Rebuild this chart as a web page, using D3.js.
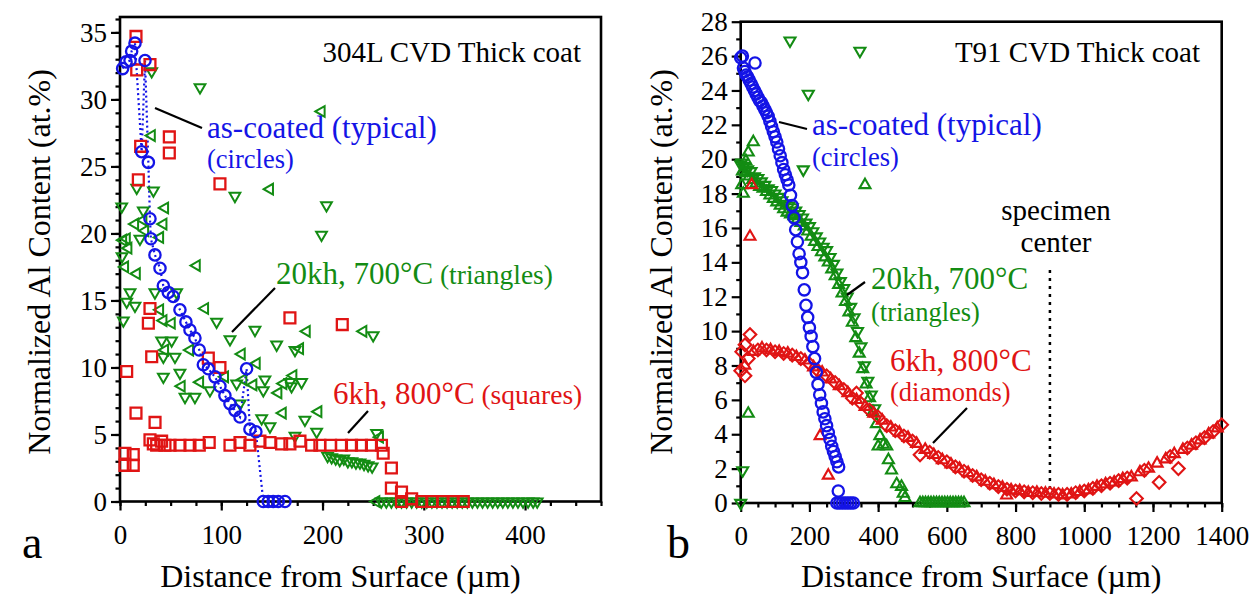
<!DOCTYPE html>
<html>
<head>
<meta charset="utf-8">
<script src="https://d3js.org/d3.v7.min.js"></script>
<style>
  body { margin: 0; background: #fff; }
  text { font-family: "Liberation Serif", "Times New Roman", serif; }
</style>
</head>
<body>
<script>
// ---------- panel a : 304L ----------
// [distance um, Al at.%]
var aCircles = [[2.6,32.3],[6,32.8],[9.9,32.9],[11.5,33.6],[14.8,34.2],[21.4,26.1],[24.7,32.9],[28,25.3],[29.6,21.1],[30.5,19.6],[34.5,18.4],[39.5,17.4],[42.8,16.1],[47.7,15.6],[52.6,15.3],[59.2,14.3],[65.1,13.4],[69.1,12.8],[74,12.2],[78.3,11.3],[82.3,10.2],[87.2,9.9],[93.8,9.3],[98.7,8.6],[103.6,7.9],[108.6,7.3],[113.5,6.8],[118.5,6.3],[125,9.9],[128.3,5.4],[134.2,5.2],[141.5,0],[146.4,0],[151.3,0],[156.3,0],[162.9,0]];

var aSquares = [[4.9,3.6],[4.9,2.7],[6.6,9.7],[13.1,3.5],[13.1,2.7],[15.8,34.7],[15.8,6.6],[16.5,32.2],[18.1,24.0],[20.4,26.5],[28,13.3],[29.6,14.4],[29.6,32.6],[31.3,10.8],[34.6,5.9],[48.7,27.2],[48.7,26.0],[87.2,10.7],[98.7,10.0],[98.7,23.7],[167.8,13.7],[219.5,13.2],
  [29.6,4.6],[32.9,4.3],[36.2,4.2],[41.1,4.5],[44.4,4.2],[49.4,4.2],[59.2,4.2],[69.1,4.2],[78.3,4.2],[88.1,4.4],[108.6,4.2],[118.5,4.4],[128.3,4.2],[138.2,4.5],[148.1,4.4],[159.6,4.3],[167.8,4.3],[177.7,4.5],[189.2,4.2],[197.4,4.2],[207.9,4.2],[218.7,4.2],[228.6,4.2],[238.4,4.2],[248.3,4.2],[258.2,4.2],
  [259.9,3.6],[268,2.5],[268,1.0],[278,0.7],[278,0],[288,0.2],[298,0],[308,0],[319,0],[329,0],[339,0]];

var aTriDown = [[1.7,22],[2,18.3],[3.3,13.5],[6.6,14.9],[9.9,15.6],[14.8,14.6],[16.5,23.4],[19.7,19.6],[23,21.7],[31.3,32.1],[33,23.2],[34.5,15.6],[41.1,12.0],[42.8,10.8],[42.8,9.3],[51,12.0],[54.3,10.8],[55.9,15.6],[59.2,9.6],[64.2,7.8],[74,7.8],[79,30.9],[88.8,8.3],[95.4,13.4],[108.6,12.1],[113.5,22.8],[115.2,8.8],[118.5,7.3],[133.3,12.8],[139.9,6.2],[141.5,8.3],[143.1,9.1],[148.1,5.6],[154.7,11.7],[167.8,8.9],[169.4,8.6],[172.8,11.3],[172.8,4.9],[179.3,8.9],[182.6,6.1],[194.2,5.2],[199,19.9],[203.9,22.1],[250,12.4],[253.4,5.1],
  [205,3.4],[209,3.3],[213,3.2],[217,3.1],[221,3.2],[225,3.0],[229,3.0],[233,2.9],[237,2.9],[241,2.8],[245,2.7],[249,2.6],
  [258,0],[263,0],[268,0],[273,0],[278,0],[283,0],[288,0],[293,0],[298,0],[303,0],[308,0],[313,0],[318,0],[323,0],[328,0],[333,0],[338,0],[343,0],[348,0],[353,0],[358,0],[363,0],[368,0],[373,0],[378,0],[383,0],[388,0],[393,0],[398,0],[403,0],[408,0],[412,0]];

var aTriLeft = [[3,19.5],[4.9,17.5],[6.6,19.6],[8.2,18.9],[14.8,20.7],[16.5,17.0],[23,21.0],[24.7,20.2],[31.3,27.3],[39.5,19.7],[39.5,14.3],[42.8,20.7],[42.8,13.5],[44.4,21.9],[44.4,11.3],[51,13.3],[60.8,8.6],[69.1,11.3],[75.7,17.6],[79,8.9],[83.9,14.4],[103.6,9.3],[120.1,11.0],[121.7,9.1],[131.6,8.7],[134.9,10.3],[148,23.3],[156.3,8.1],[160.6,6.6],[161.2,8.8],[171.1,9.4],[177.7,11.4],[184.3,12.7],[195.8,6.7],[199,29.1],[240.2,12.7],[253,0],[256.6,4.8]];

var aXTicks = [0, 100, 200, 300, 400];
var aYTicks = [0, 5, 10, 15, 20, 25, 30, 35];

// ---------- panel b : T91 ----------
var bCircles = [[0,25.9],[5,26.0],[8,25.3],[12,25.1],[16,24.9],[20,24.8],[25,24.6],[30,24.4],[35,24.2],[40,24.0],[41.6,25.6],[45,23.8],[50,23.6],[55,23.4],[60,23.3],[65,23.1],[70,22.9],[75,22.7],[80,22.5],[85,22.2],[90,21.9],[95,21.6],[100,21.3],[105,21.0],[110,20.6],[115,20.2],[120,19.8],[125,19.4],[130,19.1],[135,18.8],[140,18.5],[145,17.9],[150,17.3],[155,16.6],[160,15.9],[165,15.2],[170,14.5],[175,14.0],[180,13.4],[185,12.4],[190,11.5],[195,10.8],[200,10.2],[205,9.7],[210,9.1],[215,8.4],[220,7.6],[225,6.9],[230,6.3],[235,5.8],[240,5.3],[245,4.9],[250,4.5],[255,4.1],[260,3.7],[265,3.3],[270,3.0],[275,2.7],[280,2.4],[285,2.1],
  [284,0.7],[280,0],[288,0],[296,0],[304,0],[312,0],[320,0],[328,0]];

var bGreenDown = [[0,0],[5.8,1.9],[3,19.8],[143.5,26.9],[347,26.3],[196.7,23.8],[182.2,19.4],
  [0,19.7],[10,19.6],[20,19.4],[30,19.3],[40,19.0],[50,18.9],[60,18.7],[70,18.5],[80,18.3],[90,18.2],[100,18.0],[110,17.8],[120,17.6],[130,17.4],[140,17.3],[150,17.2],[160,17.0],[170,16.8],[180,16.6],[190,16.3],[200,16.1],[210,15.8],[220,15.5],[230,15.2],[240,14.9],[250,14.7],[260,14.3],[270,13.9],[280,13.4],[290,12.9],[300,12.5],[310,12.0],[320,11.4],[330,10.8],[340,10.0],[350,9.1],[360,8.0],[370,7.1],[380,6.3],[390,5.5]];

var bGreenUp = [[3,18.5],[7.6,18.0],[15,19.9],[22,20.4],[36.7,21.0],[22,5.2],[361.8,18.5],
  [5,19.3],[15,19.2],[25,19.0],[35,18.8],[45,18.6],[55,18.4],[65,18.3],[75,18.1],[85,17.9],[95,17.7],[105,17.5],[115,17.3],[125,17.1],[135,16.9],[145,16.8],[155,16.7],[165,16.5],[175,16.3],[185,16.1],[195,15.8],[205,15.5],[215,15.2],[225,14.9],[235,14.6],[245,14.3],[255,14.0],[265,13.6],[275,13.2],[285,12.7],[295,12.2],[305,11.7],[315,11.1],[325,10.5],[335,9.6],[345,8.7],[355,7.8],[365,6.9],[375,6.1],[385,5.3],[395,4.6],[405,3.9],[400,3.3],[415,3.4],[425,3.3],[430,2.5],[439,1.9],[454,1.1],[468,0.95],[473,0.55],[478,0.3],
  [522,0],[530,0],[538,0],[546,0],[554,0],[562,0],[570,0],[578,0],[586,0],[594,0],[602,0],[610,0],[618,0],[626,0],[634,0],[642,0],[650,0]];

var bDiamonds = [[0,7.7],[3,8.8],[12.5,7.4],[12.5,9.2],[22,8.4],[27,9.8],[50,8.9],[75,8.9],[100,8.8],[125,8.7],[150,8.6],[175,8.4],[200,8.1],[225,7.7],[250,7.4],[275,7.0],[300,6.6],[325,6.1],[337,6.4],[350,5.8],[375,5.4],[400,5.0],[425,4.5],[450,4.2],[475,3.9],[500,3.6],[522,2.8],[550,2.95],[575,2.65],[600,2.4],[625,2.1],[650,1.85],[675,1.6],[700,1.35],[725,1.15],[750,0.95],[775,0.8],[800,0.7],[825,0.65],[850,0.6],[875,0.55],[900,0.55],[925,0.5],[950,0.5],[975,0.6],[1000,0.7],[1025,0.85],[1050,1.0],[1075,1.15],[1100,1.3],[1125,1.45],[1152,0.26],[1175,1.9],[1218,1.2],[1250,2.7],[1274,2.0],[1300,3.2],[1325,3.5],[1350,3.8],[1375,4.15],[1400,4.55]];

var bRedUp = [[32,18.5],[27,15.5],[231,3.9],[255,1.6],
  [12,8.0],[37,8.8],[62,9.0],[87,8.9],[112,8.8],[137,8.7],[162,8.5],[187,8.3],[212,7.9],[237,7.6],[262,7.2],[287,6.8],[312,6.4],[337,6.0],[362,5.6],[387,5.2],[412,4.8],[437,4.4],[462,4.1],[487,3.8],[512,3.45],[537,3.1],[562,2.8],[587,2.5],[612,2.25],[637,2.0],[662,1.75],[687,1.5],[712,1.25],[737,1.05],[762,0.9],[774,0.45],[787,0.75],[812,0.7],[837,0.6],[862,0.6],[887,0.55],[912,0.5],[937,0.45],[962,0.5],[987,0.65],[1012,0.75],[1037,0.95],[1062,1.1],[1087,1.2],[1112,1.4],[1137,1.5],[1162,1.8],[1187,2.0],[1212,2.3],[1237,2.55],[1262,2.85],[1287,3.1],[1312,3.35],[1337,3.65],[1362,4.0],[1387,4.35]];

var bXTicks = [0, 200, 400, 600, 800, 1000, 1200, 1400];
var bYTicks = [0, 2, 4, 6, 8, 10, 12, 14, 16, 18, 20, 22, 24, 26, 28];
var specimenCenter = 900;

var BLUE = "#1414e6", RED = "#e01414", GREEN = "#138c13";

var svg = d3.select("body").append("svg")
  .attr("width", 1254).attr("height", 596);

// sets up frame + axes, returns scales
function setupPanel(o) {
  var x = d3.scaleLinear().domain(o.xDom).range(o.xRange);
  var y = d3.scaleLinear().domain(o.yDom).range(o.yRange);
  var g = svg.append("g");

  // minor ticks
  g.append("g").attr("transform", "translate(0," + o.yRange[0] + ")")
    .call(d3.axisBottom(x).tickValues(o.xMinor).tickSize(4.5).tickSizeOuter(0).tickFormat(""));
  g.append("g").attr("transform", "translate(" + o.xRange[0] + ",0)")
    .call(d3.axisLeft(y).tickValues(o.yMinor).tickSize(4.5).tickSizeOuter(0).tickFormat(""));
  // major ticks
  g.append("g").attr("transform", "translate(0," + o.yRange[0] + ")")
    .call(d3.axisBottom(x).tickValues(o.xTicks).tickSize(9).tickSizeOuter(0)
      .tickPadding(14).tickFormat(d3.format("d")));
  g.append("g").attr("transform", "translate(" + o.xRange[0] + ",0)")
    .call(d3.axisLeft(y).tickValues(o.yTicks).tickSize(9).tickSizeOuter(0)
      .tickPadding(4).tickFormat(d3.format("d")));

  g.selectAll(".domain").remove();
  g.selectAll(".tick line").attr("stroke", "#000").attr("stroke-width", 2.2);
  g.selectAll(".tick text").attr("fill", "#000").style("font-size", "27px")
    .style("font-family", "'Liberation Serif', serif");

  g.append("rect")
    .attr("x", o.xRange[0]).attr("y", o.yRange[1])
    .attr("width", o.xRange[1] - o.xRange[0]).attr("height", o.yRange[0] - o.yRange[1])
    .attr("fill", "none").attr("stroke", "#000").attr("stroke-width", 2.6);

  // axis titles
  svg.append("text").attr("x", (o.xRange[0] + o.xRange[1]) / 2 + o.xtOff).attr("y", 587)
    .attr("text-anchor", "middle").style("font-size", "32px")
    .text("Distance from Surface (\u00b5m)");
  svg.append("text")
    .attr("transform", "translate(" + o.ytX + ",262) rotate(-90)")
    .attr("text-anchor", "middle").style("font-size", "32px")
    .text("Normalized Al Content (at.%)");
  svg.append("text").attr("x", o.letterX).attr("y", 558)
    .style("font-size", "46px").text(o.letter);

  svg.append("text").attr("x", o.titleX).attr("y", 62)
    .attr("text-anchor", "end").style("font-size", "29px").text(o.title);

  return {x: x, y: y};
}

function marks(sc, data, type, rot, size, color, sw) {
  svg.append("g").selectAll("path").data(data).enter().append("path")
    .attr("d", d3.symbol().type(type).size(size))
    .attr("transform", function (d) {
      return "translate(" + sc.x(d[0]) + "," + sc.y(d[1]) + ") rotate(" + rot + ")";
    })
    .attr("fill", "none").attr("stroke", color).attr("stroke-width", sw);
}

function leader(x1, y1, x2, y2) {
  svg.append("line").attr("x1", x1).attr("y1", y1).attr("x2", x2).attr("y2", y2)
    .attr("stroke", "#000").attr("stroke-width", 2.2);
}

function label(x, y, big, small, color, smallOnNewLine, y2) {
  var t = svg.append("text").attr("x", x).attr("y", y).attr("fill", color);
  t.append("tspan").style("font-size", "31px").text(big);
  if (smallOnNewLine) {
    svg.append("text").attr("x", x).attr("y", y2).attr("fill", color)
      .style("font-size", "26.5px").text(small);
  } else {
    t.append("tspan").style("font-size", "27.5px").text(" " + small);
  }
}

// ---- panel a ----
var sa = setupPanel({
  xDom: [0, 475], xRange: [120, 601], yDom: [0, 36.15], yRange: [501.5, 17],
  xTicks: aXTicks, yTicks: aYTicks,
  xMinor: d3.range(0, 476, 25), yMinor: d3.range(0, 37, 1),
  xtOff: -20, ytX: 50, letter: "a", letterX: 22,
  title: "304L CVD Thick coat", titleX: 581
});

svg.append("path").datum(aCircles)
  .attr("d", d3.line().x(function (d) { return sa.x(d[0]); }).y(function (d) { return sa.y(d[1]); }))
  .attr("fill", "none").attr("stroke", BLUE).attr("stroke-width", 2.2)
  .attr("stroke-dasharray", "2,3");
marks(sa, aTriDown, d3.symbolTriangle, 180, 50, GREEN, 2);
marks(sa, aTriLeft, d3.symbolTriangle, -90, 50, GREEN, 2);
marks(sa, aSquares, d3.symbolSquare, 0, 118, RED, 2.3);
marks(sa, aCircles, d3.symbolCircle, 0, 100, BLUE, 2.3);

leader(155, 108, 202, 128);
label(207, 138, "as-coated (typical)", "(circles)", BLUE, true, 168);
leader(232, 332, 275, 288);
label(276, 284, "20kh, 700\u00b0C", "(triangles)", GREEN, false);
leader(348, 433, 368, 411);
label(333, 404, "6kh, 800\u00b0C", "(squares)", RED, false);

// ---- panel b ----
var sb = setupPanel({
  xDom: [0, 1400], xRange: [740.7, 1221.7], yDom: [0, 28], yRange: [503, 21.7],
  xTicks: bXTicks, yTicks: bYTicks,
  xMinor: d3.range(0, 1401, 50), yMinor: d3.range(1, 28, 2),
  xtOff: 0, ytX: 672, letter: "b", letterX: 667,
  title: "T91 CVD Thick coat", titleX: 1200
});

svg.append("line")
  .attr("x1", sb.x(specimenCenter)).attr("x2", sb.x(specimenCenter))
  .attr("y1", 270).attr("y2", sb.y(0))
  .attr("stroke", "#000").attr("stroke-width", 2.5).attr("stroke-dasharray", "3,5");

marks(sb, bGreenDown, d3.symbolTriangle, 180, 52, GREEN, 2.1);
marks(sb, bGreenUp, d3.symbolTriangle, 0, 52, GREEN, 2.1);
marks(sb, bDiamonds, d3.symbolSquare, 45, 80, RED, 2.1);
marks(sb, bRedUp, d3.symbolTriangle, 0, 52, RED, 2.1);
marks(sb, bCircles, d3.symbolCircle, 0, 100, BLUE, 2.3);

leader(779, 122, 807, 129);
label(812, 135, "as-coated (typical)", "(circles)", BLUE, true, 166);
leader(847, 295, 865, 282);
label(871, 289, "20kh, 700\u00b0C", "(triangles)", GREEN, true, 321);
leader(933, 443, 967, 408);
label(890, 371, "6kh, 800\u00b0C", "(diamonds)", RED, true, 401);

svg.append("text").attr("x", 1056).attr("y", 220).attr("text-anchor", "middle")
  .style("font-size", "29px").text("specimen");
svg.append("text").attr("x", 1056).attr("y", 252).attr("text-anchor", "middle")
  .style("font-size", "29px").text("center");
</script>
</body>
</html>
